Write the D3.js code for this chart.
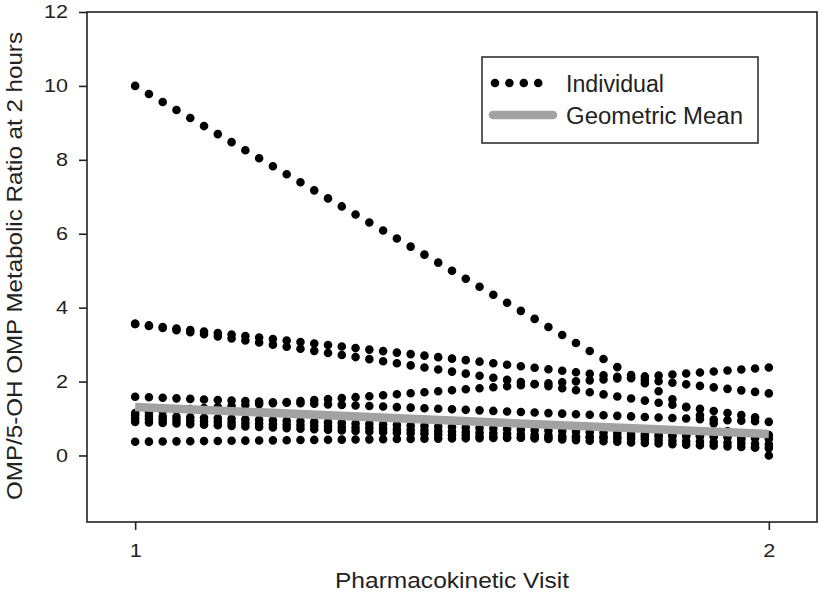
<!DOCTYPE html>
<html>
<head>
<meta charset="utf-8">
<script src="https://cdn.jsdelivr.net/npm/d3@7"></script>
<style>
  html, body { margin: 0; padding: 0; background: #fff; }
  svg { display: block; }
  text { font-family: "Liberation Sans", Arial, sans-serif; fill: #222; }
</style>
</head>
<body>
<svg id="chart" width="819" height="597"></svg>
<script>
// ---- data ----
const visits = [1, 2];
const visit1Values = [10.0, 3.56, 3.56, 1.15, 1.59, 1.09, 1.00, 0.91, 0.37];
const visit2Values = [0.00, 1.68, 0.98, 2.38, 0.91, 0.45, 0.30, 0.20, 0.55];
const geometricMean = [1.31, 0.58];
const yTicks = [0, 2, 4, 6, 8, 10, 12];
const xTicks = [1, 2];
const yTitle = "OMP/5-OH OMP Metabolic Ratio at 2 hours";
const xTitle = "Pharmacokinetic Visit";
const legendLabels = ["Individual", "Geometric Mean"];

// ---- layout ----
const plotLeft = 87, plotRight = 817, plotTop = 12, plotBottom = 522;
const svg = d3.select("#chart");

const x = d3.scaleLinear().domain([0.924, 2.076]).range([plotLeft, plotRight]);
const y = d3.scaleLinear().domain([-1.8, 12]).range([plotBottom, plotTop]);

const subjects = visit1Values.map((v, i) => [
  { visit: visits[0], value: v },
  { visit: visits[1], value: visit2Values[i] }
]);
const meanLine = visits.map((v, i) => ({ visit: v, value: geometricMean[i] }));

const line = d3.line().x(d => x(d.visit)).y(d => y(d.value));

// individual dotted lines
const nGaps = 46;
svg.append("g").selectAll("path").data(subjects).join("path")
  .attr("d", line)
  .attr("fill", "none")
  .attr("stroke", "#000")
  .attr("stroke-width", 8.6)
  .attr("stroke-linecap", "round")
  .attr("stroke-dasharray", d => {
    const dx = x(d[1].visit) - x(d[0].visit);
    const dy = y(d[1].value) - y(d[0].value);
    const L = Math.sqrt(dx * dx + dy * dy);
    return "0," + (L / nGaps).toFixed(3);
  });

// geometric mean
svg.append("path").datum(meanLine)
  .attr("d", line)
  .attr("fill", "none")
  .attr("stroke", "#a2a2a2")
  .attr("stroke-width", 8.5);

// frame
svg.append("rect")
  .attr("x", plotLeft).attr("y", plotTop)
  .attr("width", plotRight - plotLeft).attr("height", plotBottom - plotTop)
  .attr("fill", "none").attr("stroke", "#222").attr("stroke-width", 1.6);

// axes
const yAxis = svg.append("g").attr("transform", `translate(${plotLeft},0)`)
  .call(d3.axisLeft(y).tickValues(yTicks).tickSize(8).tickPadding(11).tickFormat(d3.format("d")));
const xAxis = svg.append("g").attr("transform", `translate(0,${plotBottom})`)
  .call(d3.axisBottom(x).tickValues(xTicks).tickSize(8).tickPadding(14).tickFormat(d3.format("d")));
[yAxis, xAxis].forEach(a => {
  a.select(".domain").remove();
  a.selectAll("line").attr("stroke", "#222").attr("stroke-width", 1.6);
  a.selectAll("text").attr("font-size", 18.5).attr("fill", "#222")
    .style("font-family", "'Liberation Sans', Arial, sans-serif")
    .attr("textLength", d => String(d).length * 12)
    .attr("lengthAdjust", "spacingAndGlyphs");
});

// axis titles
svg.append("text")
  .attr("transform", `translate(22,${(plotTop + plotBottom) / 2 - 1}) rotate(-90)`)
  .attr("text-anchor", "middle")
  .attr("font-size", 22)
  .attr("textLength", 468).attr("lengthAdjust", "spacingAndGlyphs")
  .text(yTitle);

svg.append("text")
  .attr("x", (plotLeft + plotRight) / 2).attr("y", 588)
  .attr("text-anchor", "middle")
  .attr("font-size", 22)
  .attr("textLength", 234).attr("lengthAdjust", "spacingAndGlyphs")
  .text(xTitle);

// legend
const lg = svg.append("g");
lg.append("rect")
  .attr("x", 482).attr("y", 57).attr("width", 276).attr("height", 86)
  .attr("fill", "#fff").attr("stroke", "#333").attr("stroke-width", 1.6);
lg.append("line")
  .attr("x1", 495).attr("x2", 538.2).attr("y1", 83).attr("y2", 83)
  .attr("stroke", "#000").attr("stroke-width", 8.6)
  .attr("stroke-linecap", "round").attr("stroke-dasharray", "0,14.4");
lg.append("line")
  .attr("x1", 493).attr("x2", 553).attr("y1", 115).attr("y2", 115)
  .attr("stroke", "#a2a2a2").attr("stroke-width", 8.5).attr("stroke-linecap", "round");
lg.append("text").attr("x", 566).attr("y", 92).attr("font-size", 23)
  .attr("textLength", 98).attr("lengthAdjust", "spacingAndGlyphs")
  .text(legendLabels[0]);
lg.append("text").attr("x", 566).attr("y", 124).attr("font-size", 23)
  .attr("textLength", 177).attr("lengthAdjust", "spacingAndGlyphs")
  .text(legendLabels[1]);
</script>
</body>
</html>
